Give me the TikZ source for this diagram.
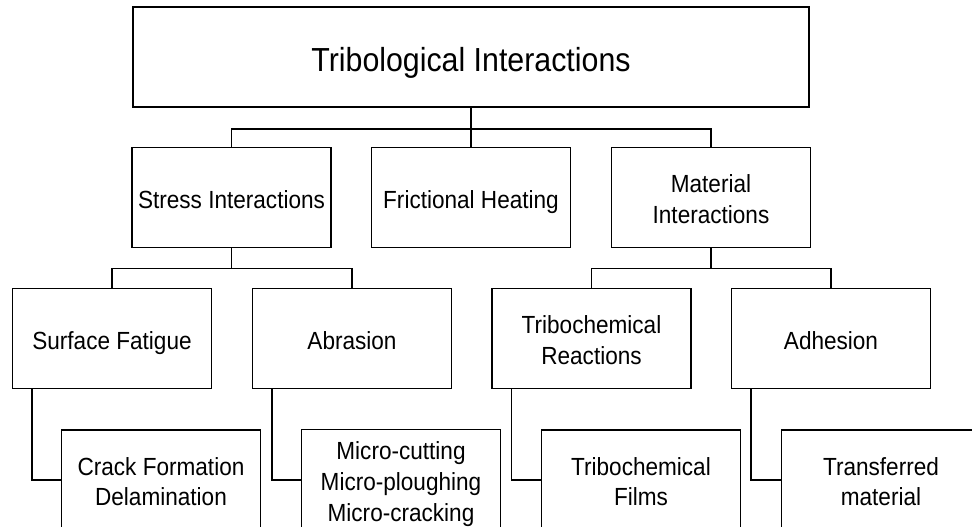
\documentclass[tikz,border=0pt]{standalone}
\usepackage{fontspec}
\setmainfont{Liberation Sans}[FakeStretch=0.91]
\usetikzlibrary{calc}
\newcommand\mystrut{\rule{0pt}{22.7pt}}
\begin{document}
\begin{tikzpicture}[x=0.75pt,y=-0.75pt,
  frame/.style={draw=black,line width=1.2pt,fill=white,inner sep=0pt,align=center},
  box/.style={frame,minimum width=149pt,minimum height=75pt,
    font=\fontsize{18.6pt}{23pt}\selectfont,
    execute at end node={\strut}},
  topbox/.style={frame,minimum width=507pt,minimum height=75pt,
    font=\fontsize{25pt}{30pt}\selectfont,
    execute at begin node={\rule{0pt}{30pt}},
    execute at end node={\strut}},
  link/.style={draw=black,line width=1.2pt}]
\useasboundingbox (0,0) rectangle (972,526);
\clip (0,0) rectangle (972,526);
% level 1
\node[topbox] (top) at (471,57) {Tribological Interactions};
% level 2
\node[box] (stress) at (231.5,197.5) {\mystrut Stress Interactions};
\node[box] (fric) at (471,197.5) {\mystrut Frictional Heating};
\node[box] (mat) at (711,197.5) {\mystrut Material\\Interactions};
% level 3
\node[box] (sf) at (112,338.5) {\mystrut Surface Fatigue};
\node[box] (abr) at (352,338.5) {\mystrut Abrasion};
\node[box] (trr) at (591.5,338.5) {\mystrut Tribochemical\\Reactions};
\node[box] (adh) at (831,338.5) {\mystrut Adhesion};
% level 4
\node[box] (crack) at (161,480) {\mystrut Crack Formation\\Delamination};
\node[box] (micro) at (401,480) {\mystrut Micro-cutting\\Micro-ploughing\\Micro-cracking};
\node[box] (films) at (641,480) {\mystrut Tribochemical\\Films};
\node[box] (trans) at (881,480) {\mystrut Transferred\\material};
% connectors
\coordinate (j1) at ($(top.south)+(0,21)$);
\path[link] (top.south) -- (j1);
\path[link] (j1) -| (stress.north);
\path[link] (j1) -| (mat.north);
\path[link] (j1) -- (fric.north);
\coordinate (j2) at ($(stress.south)+(0,20)$);
\path[link] (stress.south) -- (j2);
\path[link] (j2) -| (sf.north);
\path[link] (j2) -| (abr.north);
\coordinate (j3) at ($(mat.south)+(0,20)$);
\path[link] (mat.south) -- (j3);
\path[link] (j3) -| (trr.north);
\path[link] (j3) -| (adh.north);
\path[link] ([xshift=15pt]sf.south west) |- (crack.west);
\path[link] ([xshift=15pt]abr.south west) |- (micro.west);
\path[link] ([xshift=15pt]trr.south west) |- (films.west);
\path[link] ([xshift=15pt]adh.south west) |- (trans.west);
\end{tikzpicture}
\end{document}
